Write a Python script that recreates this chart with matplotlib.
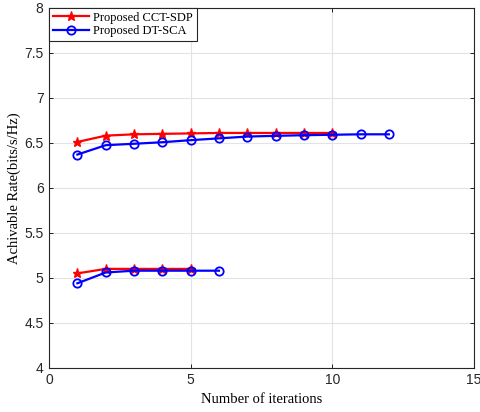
import matplotlib
matplotlib.use('Agg')
import matplotlib.pyplot as plt

# iterations and achievable rates
iters_a = [1, 2, 3, 4, 5, 6, 7, 8, 9, 10]
cct_high = [6.51, 6.58, 6.595, 6.60, 6.605, 6.61, 6.61, 6.61, 6.61, 6.61]
iters_b = [1, 2, 3, 4, 5, 6, 7, 8, 9, 10, 11, 12]
dt_high = [6.37, 6.474, 6.49, 6.507, 6.53, 6.55, 6.57, 6.578, 6.585, 6.59, 6.595, 6.595]
iters_c = [1, 2, 3, 4, 5]
cct_low = [5.05, 5.10, 5.10, 5.10, 5.10]
iters_d = [1, 2, 3, 4, 5, 6]
dt_low = [4.94, 5.06, 5.08, 5.08, 5.08, 5.08]

fig = plt.figure(figsize=(4.81, 4.12), dpi=100)
ax = fig.add_axes([0.102, 0.107, 0.883, 0.874])

red = '#ff0000'
blue = '#0000ff'
star = dict(marker='*', markersize=6.5, markeredgewidth=1.0, linewidth=1.6)
circ = dict(marker='o', markersize=6, markerfacecolor='none', markeredgewidth=1.3, linewidth=1.6)
ax.plot(iters_a, cct_high, color=red, label='Proposed CCT-SDP', **star)
ax.plot(iters_b, dt_high, color=blue, label='Proposed DT-SCA', **circ)
ax.plot(iters_c, cct_low, color=red, **star)
ax.plot(iters_d, dt_low, color=blue, **circ)

ax.set_xlim(0, 15)
ax.set_ylim(4, 8)
ax.set_xticks([0, 5, 10, 15])
ax.set_yticks([4, 4.5, 5, 5.5, 6, 6.5, 7, 7.5, 8])
ax.set_yticklabels(['4', '4.5', '5', '5.5', '6', '6.5', '7', '7.5', '8'])
for lab in ax.get_xticklabels() + ax.get_yticklabels():
    lab.set_fontfamily('Liberation Sans')
    lab.set_fontsize(10)
    lab.set_color('#262626')
ax.tick_params(direction='in', length=3, width=0.6, top=True, right=True, pad=4)
ax.grid(True, color='#e3e3e3', linewidth=0.8)
ax.set_axisbelow(True)
for s in ax.spines.values():
    s.set_linewidth(0.8)
    s.set_color('#262626')

ax.set_xlabel('Number of iterations', fontfamily='Liberation Serif', fontsize=10.5)
ax.set_ylabel('Achivable Rate(bits/s/Hz)', fontfamily='Liberation Serif', fontsize=10.5,
              labelpad=2)

leg = ax.legend(loc='upper left', prop={'family': 'Liberation Serif', 'size': 9},
                fancybox=False, edgecolor='#262626', framealpha=1,
                borderaxespad=0, handlelength=2.9, handletextpad=0.35,
                borderpad=0.3, labelspacing=0.15)
leg.get_frame().set_linewidth(0.8)

fig.savefig('out.png', dpi=100)
